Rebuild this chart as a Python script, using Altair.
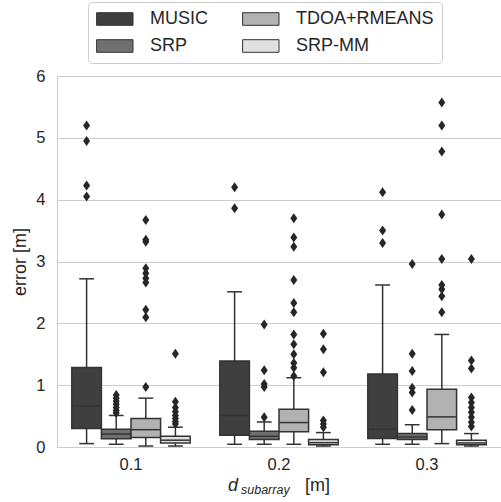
import altair as alt
import pandas as pd

groups = ["0.1", "0.2", "0.3"]
methods = ["MUSIC", "SRP", "TDOA+RMEANS", "SRP-MM"]
colors = {"MUSIC": "#3f3f3f", "SRP": "#707070", "TDOA+RMEANS": "#b2b2b2", "SRP-MM": "#e0e0e0"}

# group-major, methods in order MUSIC, SRP, TDOA+RMEANS, SRP-MM
q1 = [0.30, 0.135, 0.152, 0.065, 0.19, 0.12, 0.245, 0.038, 0.136, 0.12, 0.28, 0.038]
median = [0.66, 0.21, 0.28, 0.11, 0.51, 0.173, 0.395, 0.07, 0.287, 0.162, 0.487, 0.065]
q3 = [1.287, 0.287, 0.46, 0.173, 1.39, 0.254, 0.61, 0.12, 1.18, 0.217, 0.935, 0.109]
whisker_hi = [2.72, 0.51, 0.79, 0.32, 2.51, 0.405, 1.12, 0.233, 2.62, 0.36, 1.82, 0.217]
whisker_lo = [0.055, 0.044, 0.016, 0.016, 0.044, 0.044, 0.044, 0.016, 0.044, 0.044, 0.055, 0.016]

outliers = [
    [5.20, 4.95, 4.23, 4.05],
    [0.84, 0.79, 0.74, 0.69, 0.64, 0.59, 0.55],
    [3.67, 3.35, 3.32, 2.89, 2.81, 2.73, 2.66, 2.22, 2.10, 0.97],
    [1.51, 0.73, 0.64, 0.57, 0.51, 0.46, 0.41, 0.37],
    [4.20, 3.86],
    [1.98, 1.24, 1.02, 0.97, 0.48],
    [3.70, 3.39, 3.24, 2.70, 2.33, 2.18, 1.82, 1.66, 1.50, 1.36, 1.28, 1.15],
    [1.83, 1.58, 1.21, 0.43, 0.37, 0.32],
    [4.12, 3.50, 3.30],
    [2.96, 1.51, 1.23, 0.96, 0.88, 0.60],
    [5.57, 5.20, 4.78, 3.76, 3.04, 2.62, 2.55, 2.44, 2.18],
    [3.04, 1.40, 1.27, 0.80, 0.72, 0.64, 0.56, 0.48, 0.40, 0.33],
]

rows = []
out_rows = []
i = 0
for g in groups:
    for m in methods:
        rows.append(dict(group=g, method=m, q1=q1[i], med=median[i], q3=q3[i],
                         hi=whisker_hi[i], lo=whisker_lo[i]))
        for v in outliers[i]:
            out_rows.append(dict(group=g, method=m, value=v))
        i += 1
box_df = pd.DataFrame(rows)
out_df = pd.DataFrame(out_rows)

W, H = 444, 371
EDGE = "#333333"
TEXT = "#262626"
FONT = "Liberation Sans"
band = W / 3 / 5

xenc = alt.X("group:N", scale=alt.Scale(domain=groups, paddingInner=0, paddingOuter=0),
             axis=alt.Axis(title=None, labelAngle=0, ticks=False, domain=False, grid=False,
                           labelFontSize=16.5, labelColor=TEXT, labelPadding=9))
xoff = alt.XOffset("method:N", scale=alt.Scale(domain=methods, paddingInner=0, paddingOuter=0.5))
yscale = alt.Scale(domain=[0, 6], nice=False)

base = alt.Chart(box_df)

boxes = base.mark_bar(stroke=EDGE, strokeWidth=1.5).encode(
    x=xenc, xOffset=xoff,
    y=alt.Y("q1:Q", scale=yscale, title="error [m]",
            axis=alt.Axis(values=[0, 1, 2, 3, 4, 5, 6], format="d", ticks=False,
                          domainColor="#cccccc", gridColor="#cccccc", gridWidth=1,
                          labelFontSize=16.5, labelColor=TEXT, labelPadding=12,
                          titleFontSize=18, titleFontWeight="normal", titleColor=TEXT,
                          titlePadding=6)),
    y2="q3:Q",
    color=alt.Color("method:N", title=None,
                    scale=alt.Scale(domain=methods, range=[colors[m] for m in methods]),
                    legend=alt.Legend(orient="none", legendX=31, legendY=-74, columns=2,
                                      symbolType="M-1.2,-0.9L4.0,-0.9L4.0,0.9L-1.2,0.9Z",
                                      symbolSize=196, symbolStrokeColor=EDGE,
                                      symbolStrokeWidth=1, labelFontSize=18, labelColor=TEXT,
                                      labelOffset=36, columnPadding=32, rowPadding=9,
                                      padding=8, strokeColor="#cccccc", cornerRadius=4,
                                      fillColor="white", labelFont=FONT)),
)

whisk_hi = base.mark_rule(color=EDGE, strokeWidth=1.5).encode(
    x=xenc, xOffset=xoff, y=alt.Y("q3:Q", scale=yscale), y2="hi:Q")
whisk_lo = base.mark_rule(color=EDGE, strokeWidth=1.5).encode(
    x=xenc, xOffset=xoff, y=alt.Y("lo:Q", scale=yscale), y2="q1:Q")
cap_hi = base.mark_tick(color=EDGE, thickness=1.5, size=band / 2, opacity=1, orient="horizontal").encode(
    x=xenc, xOffset=xoff, y=alt.Y("hi:Q", scale=yscale))
cap_lo = base.mark_tick(color=EDGE, thickness=1.5, size=band / 2, opacity=1, orient="horizontal").encode(
    x=xenc, xOffset=xoff, y=alt.Y("lo:Q", scale=yscale))
med = base.mark_tick(color=EDGE, thickness=1.5, size=band - 1, opacity=1, orient="horizontal").encode(
    x=xenc, xOffset=xoff, y=alt.Y("med:Q", scale=yscale))

pts = alt.Chart(out_df).mark_point(
    shape="M0,-1L0.7,0L0,1L-0.7,0Z", filled=True, size=100, color=TEXT, opacity=1, strokeWidth=0
).encode(x=xenc, xOffset=xoff, y=alt.Y("value:Q", scale=yscale))

title_df = pd.DataFrame([{"a": 1}])
tbase = alt.Chart(title_df)
t_d = tbase.mark_text(text="d", fontSize=18, fontStyle="italic", align="left",
                      baseline="alphabetic", color=TEXT, font=FONT).encode(
    x=alt.value(171), y=alt.value(415))
t_sub = tbase.mark_text(text="subarray", fontSize=12.5, fontStyle="italic", align="left",
                        baseline="alphabetic", color=TEXT, font=FONT).encode(
    x=alt.value(184), y=alt.value(418))
t_m = tbase.mark_text(text="[m]", fontSize=18, align="left", baseline="alphabetic",
                      color=TEXT, font=FONT).encode(x=alt.value(248), y=alt.value(415))

chart = alt.layer(boxes, whisk_hi, whisk_lo, cap_hi, cap_lo, med, pts, t_d, t_sub, t_m).properties(
    width=W, height=H,
    autosize=alt.AutoSizeParams(type="none"),
    padding={"left": 57, "top": 76, "right": 0, "bottom": 55},
    background="white",
).configure_view(stroke=None).configure_axis(labelFont=FONT, titleFont=FONT)

chart.save("out.html", embed_options={"renderer": "svg", "actions": False})
